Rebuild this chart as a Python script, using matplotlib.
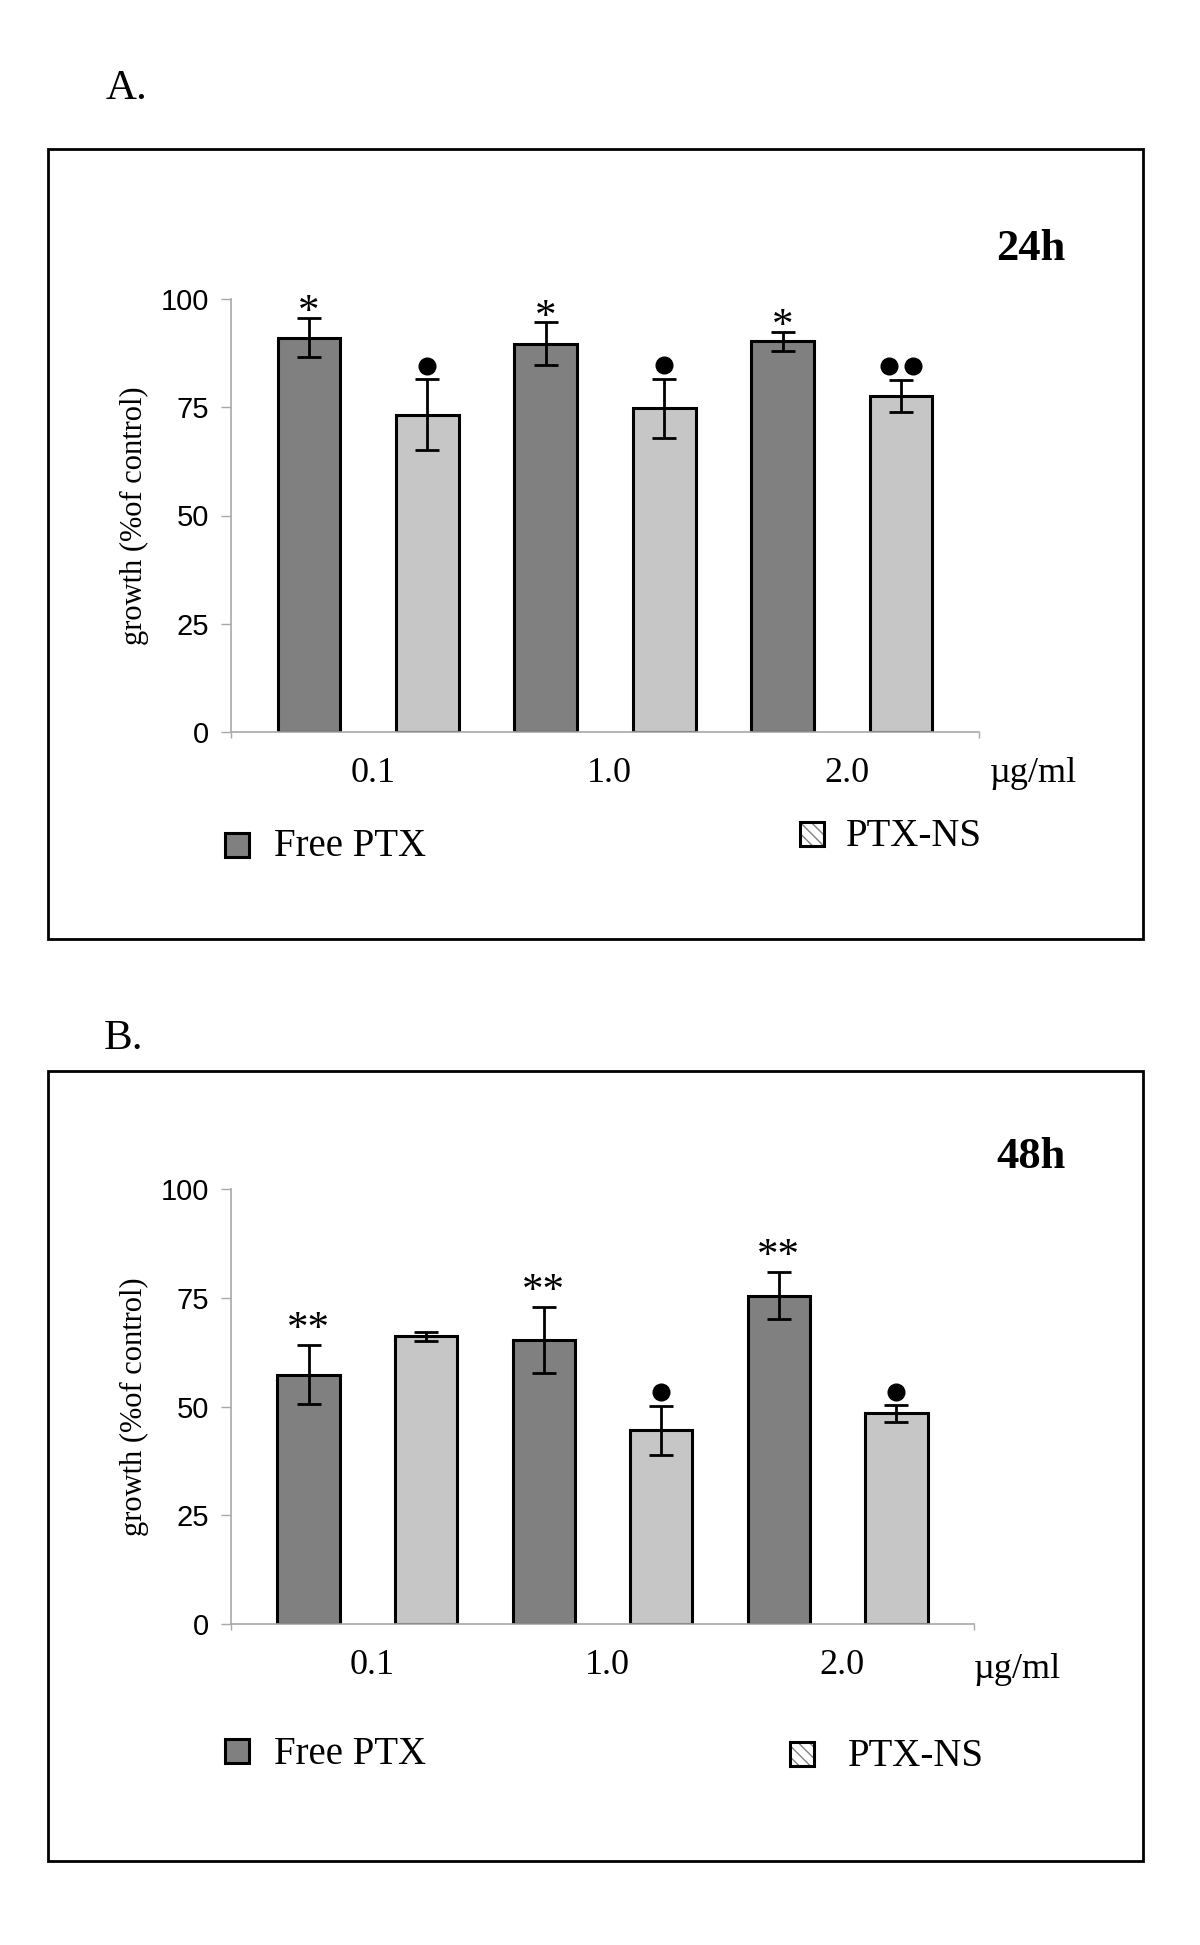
import numpy as np
import matplotlib

matplotlib.use("Agg")
import matplotlib.pyplot as plt
from matplotlib.patches import Rectangle

W, H = 1200, 1945
SERIF = "Liberation Serif"
SANS = "Liberation Sans"

FREE_COLOR = "#808080"
NS_COLOR = "#c6c6c6"
AXIS_COLOR = "#a8a8a8"

# dane
doses = ["0.1", "1.0", "2.0"]
free_24 = [91.1, 89.7, 90.2]
free_24_err = [4.6, 5.0, 2.2]
ns_24 = [73.3, 74.8, 77.6]
ns_24_err = [8.2, 6.8, 3.8]
free_48 = [57.3, 65.3, 75.5]
free_48_err = [6.8, 7.5, 5.4]
ns_48 = [66.1, 44.5, 48.4]
ns_48_err = [1.0, 5.7, 1.9]

# oznaczenia istotności
free_24_stars = ["*", "*", "*"]
ns_24_dots = [1, 1, 2]
free_48_stars = ["**", "**", "**"]
ns_48_dots = [0, 1, 1]


def fx(x):
    return x / W


def fy(y):
    return 1 - y / H


def add_axes_px(fig, left, right, top, bottom):
    return fig.add_axes([fx(left), fy(bottom), (right - left) / W, (bottom - top) / H])


def draw_panel(fig, ax, free, free_err, ns, ns_err, stars, dots, star_off):
    x = np.arange(len(doses))
    off, width = 0.25, 0.265
    ax.bar(x - off, free, width, color=FREE_COLOR, edgecolor="black", linewidth=2.2, zorder=2)
    ax.bar(x + off, ns, width, color=NS_COLOR, edgecolor="black", linewidth=2.2, zorder=2)
    ax.errorbar(x - off, free, yerr=free_err, fmt="none", ecolor="black", elinewidth=2.0,
                capsize=8.3, capthick=2.0, zorder=3, clip_on=False)
    ax.errorbar(x + off, ns, yerr=ns_err, fmt="none", ecolor="black", elinewidth=2.0,
                capsize=8.3, capthick=2.0, zorder=3, clip_on=False)

    for xi, v, e, s in zip(x - off, free, free_err, stars):
        ax.annotate(s, xy=(xi, v + e), xytext=(0, star_off), textcoords="offset points",
                    ha="center", va="baseline", fontsize=31, family=SERIF,
                    annotation_clip=False)
    for xi, v, e, n in zip(x + off, ns, ns_err, dots):
        if n == 0:
            continue
        xs = [xi] if n == 1 else [xi - 0.05, xi + 0.05]
        ax.plot(xs, [v + e + 3.1] * n, "o", color="black", markersize=12, clip_on=False, zorder=4)

    ax.set_xlim(-0.58, 2.58)
    ax.set_ylim(0, 100)
    ax.set_yticks([0, 25, 50, 75, 100])
    ax.set_yticklabels(["0", "25", "50", "75", "100"], fontsize=21, family=SANS)
    ax.set_xticks(x + 0.02)
    ax.set_xticklabels(doses, fontsize=26, family=SERIF)
    ax.tick_params(axis="y", length=7, width=1, color=AXIS_COLOR, pad=9)
    ax.tick_params(axis="x", length=0, pad=18)
    ax.set_xticks([-0.58, 2.58], minor=True)
    ax.tick_params(axis="x", which="minor", length=4, width=1, color=AXIS_COLOR)
    for side in ("top", "right"):
        ax.spines[side].set_visible(False)
    for side in ("left", "bottom"):
        ax.spines[side].set_color(AXIS_COLOR)
        ax.spines[side].set_linewidth(1.2)
    ax.set_ylabel("growth (%of control)", fontsize=22, family=SERIF, labelpad=8)
    ax.patch.set_alpha(0)


def legend_square(fig, cx, cy, hatched=False):
    s = 24
    if hatched:
        fig.patches.append(Rectangle((fx(cx - s / 2), fy(cy + s / 2)), s / W, s / H,
                                     transform=fig.transFigure, facecolor="white",
                                     edgecolor="#808080", hatch="\\\\\\", linewidth=0))
        fig.patches.append(Rectangle((fx(cx - s / 2), fy(cy + s / 2)), s / W, s / H,
                                     transform=fig.transFigure, facecolor="none",
                                     edgecolor="black", linewidth=2.2))
    else:
        fig.patches.append(Rectangle((fx(cx - s / 2), fy(cy + s / 2)), s / W, s / H,
                                     transform=fig.transFigure, facecolor=FREE_COLOR,
                                     edgecolor="black", linewidth=2.2))


def frame(fig, left, right, top, bottom):
    fig.patches.append(Rectangle((fx(left), fy(bottom)), (right - left) / W, (bottom - top) / H,
                                 transform=fig.transFigure, facecolor="none",
                                 edgecolor="black", linewidth=2.0))


def main():
    fig = plt.figure(figsize=(W / 100, H / 100), dpi=100)
    fig.patch.set_facecolor("white")

    # panel A
    frame(fig, 48, 1143, 149, 939)
    fig.text(fx(106), fy(89), "A.", fontsize=31, family=SERIF, va="center")
    ax_a = add_axes_px(fig, 231, 979, 299, 732)
    draw_panel(fig, ax_a, free_24, free_24_err, ns_24, ns_24_err, free_24_stars, ns_24_dots, -4)
    fig.text(fx(1031), fy(249), "24h", fontsize=32, family=SERIF, weight="bold",
             ha="center", va="center")
    fig.text(fx(1033), fy(773), "µg/ml", fontsize=26, family=SERIF, ha="center", va="center")
    legend_square(fig, 237, 845)
    fig.text(fx(274), fy(847), "Free PTX", fontsize=28, family=SERIF, va="center")
    legend_square(fig, 812, 834, hatched=True)
    fig.text(fx(846), fy(837), "PTX-NS", fontsize=28, family=SERIF, va="center")

    # panel B
    frame(fig, 48, 1143, 1071, 1861)
    fig.text(fx(104), fy(1039), "B.", fontsize=31, family=SERIF, va="center")
    ax_b = add_axes_px(fig, 231, 974, 1189, 1624)
    draw_panel(fig, ax_b, free_48, free_48_err, ns_48, ns_48_err, free_48_stars, ns_48_dots, 4)
    fig.text(fx(1031), fy(1157), "48h", fontsize=32, family=SERIF, weight="bold",
             ha="center", va="center")
    fig.text(fx(1017), fy(1669), "µg/ml", fontsize=26, family=SERIF, ha="center", va="center")
    legend_square(fig, 237, 1751)
    fig.text(fx(274), fy(1754), "Free PTX", fontsize=28, family=SERIF, va="center")
    legend_square(fig, 802, 1754, hatched=True)
    fig.text(fx(848), fy(1757), "PTX-NS", fontsize=28, family=SERIF, va="center")

    fig.savefig("out.png", dpi=100)


if __name__ == "__main__":
    main()
